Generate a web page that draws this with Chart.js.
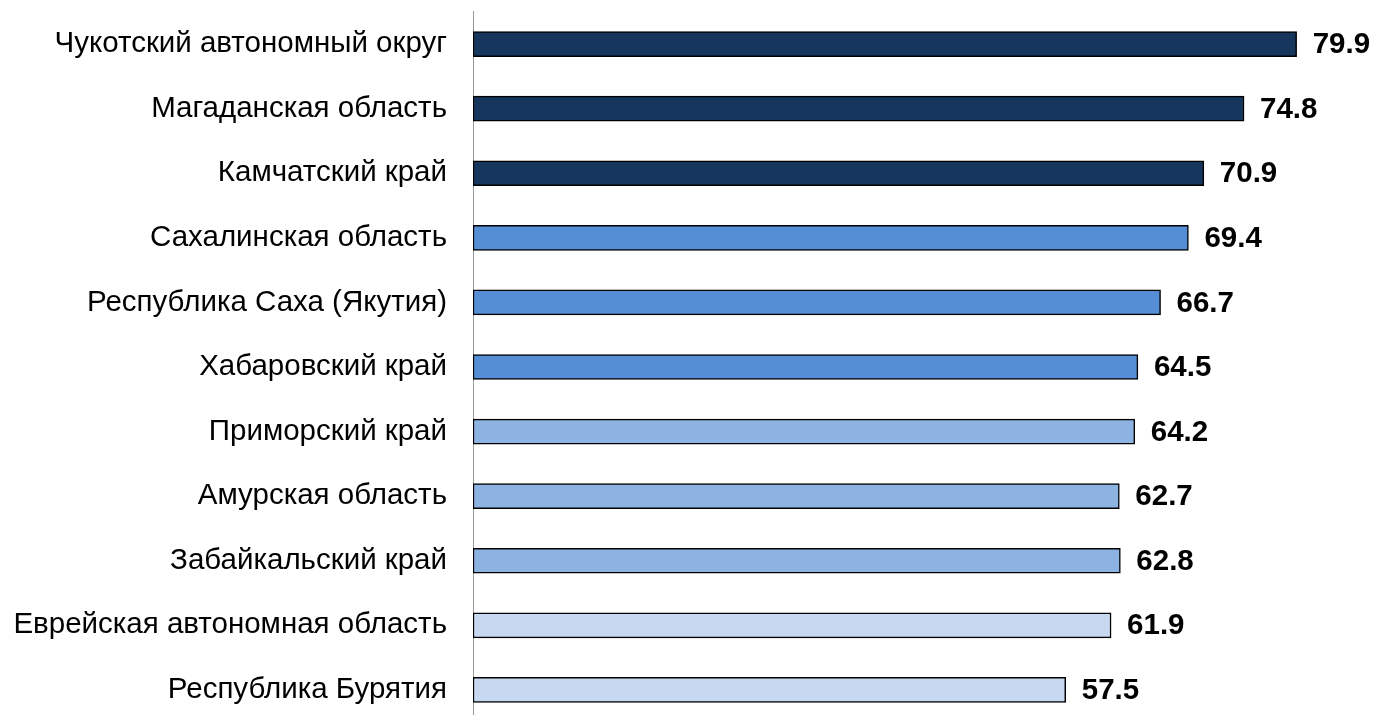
<!DOCTYPE html>
<html><head><meta charset="utf-8">
<script src="https://cdn.jsdelivr.net/npm/chart.js@4"></script>
<style>html,body{margin:0;padding:0;background:#fff;overflow:hidden}#wrap{width:1376px;height:734px}</style>
</head><body><div id="wrap"><canvas id="c" width="1376" height="734"></canvas></div>
<script>
const categories = ["Чукотский автономный округ","Магаданская область","Камчатский край","Сахалинская область","Республика Саха (Якутия)","Хабаровский край","Приморский край","Амурская область","Забайкальский край","Еврейская автономная область","Республика Бурятия"];
const values = [79.9,74.8,70.9,69.4,66.7,64.5,64.2,62.7,62.8,61.9,57.5];
const barColors = ["#17365D","#17365D","#17365D","#558ED5","#558ED5","#558ED5","#8DB3E2","#8DB3E2","#8DB3E2","#C6D9F1","#C6D9F1"];

const valueLabels = {
  id:'valueLabels',
  afterDatasetsDraw(chart){
    const ctx = chart.ctx;
    const meta = chart.getDatasetMeta(0);
    ctx.save();
    ctx.font = 'bold 29.5px "Liberation Sans", Arial, sans-serif';
    ctx.fillStyle = '#000';
    ctx.textAlign = 'left';
    ctx.textBaseline = 'middle';
    meta.data.forEach((bar,i)=>{
      ctx.fillText(values[i].toFixed(1), bar.x + 16, bar.y + 1);
    });
    ctx.restore();
  }
};

new Chart(document.getElementById('c'), {
  type:'bar',
  data:{labels:categories, datasets:[{data:values, backgroundColor:barColors, borderColor:'#000', borderWidth:1.5, borderSkipped:false, barThickness:25}]},
  options:{
    indexAxis:'y', responsive:false, animation:false,
    layout:{padding:0},
    plugins:{legend:{display:false}, tooltip:{enabled:false}},
    scales:{
      x:{display:false, min:0, max:87.6},
      y:{
        afterFit(s){ s.width = 473; },
        grid:{display:false, drawTicks:true, tickLength:26, tickColor:'rgba(0,0,0,0)'},
        border:{display:true, color:'#9a9a9a', width:1},
        ticks:{padding:0, color:'#000', font:{family:'"Liberation Sans", Arial, sans-serif', size:29.5, lineHeight:0.8}}
      }
    }
  },
  plugins:[valueLabels]
});
</script></body></html>
